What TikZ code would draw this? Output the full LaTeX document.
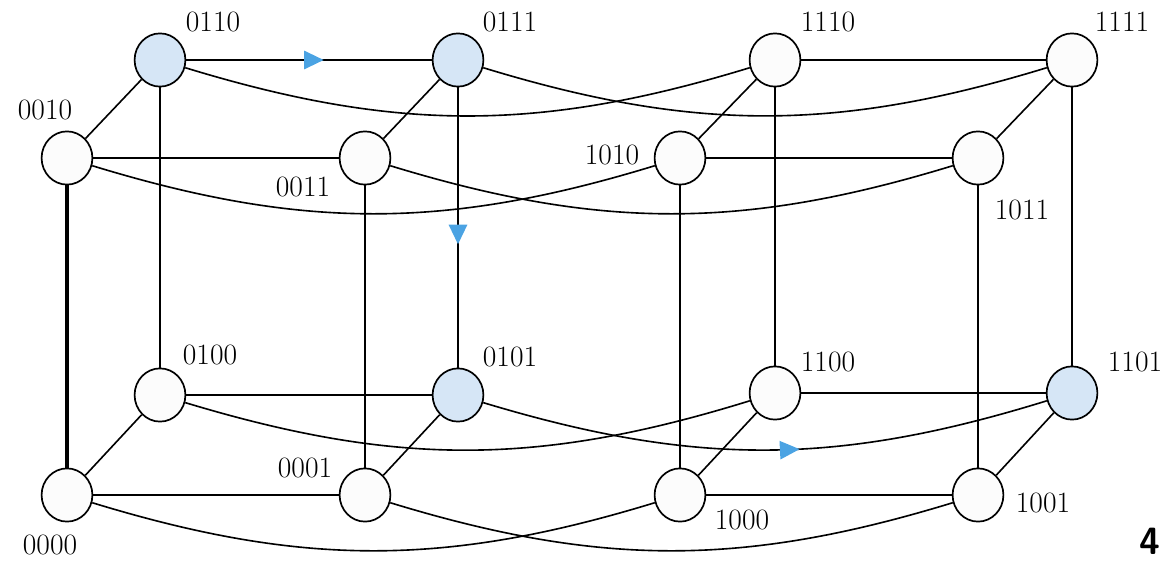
\documentclass[tikz,border=0pt]{standalone}
\usepackage{tikz}
\usetikzlibrary{arrows.meta, shapes.geometric, decorations.markings}

\definecolor{hopblue}{HTML}{4BA3E3}
\definecolor{visited}{HTML}{D6E6F6}

\begin{document}
\begin{tikzpicture}[
    x=0.025cm, y=-0.025cm,
    vertex/.style={ellipse, draw, line width=1.2pt, inner sep=0pt,
                   minimum width=1.27cm, minimum height=1.33cm, fill=black!1},
    visit/.style={vertex, fill=visited},
    tag/.style={font=\fontsize{21}{25}\selectfont},
    link/.style={line width=1.7pt},
    slant/.style={line width=1.15pt},
    wrap/.style={line width=1.15pt},
    route/.style={postaction={decorate}, decoration={markings,
                  mark=at position #1 with {\arrow{Triangle[color=hopblue, length=14pt, width=13pt]}}}}
]
\useasboundingbox (0,0) rectangle (1162,564);
% first cube (leading bit 0)
\node[visit]  (n0110) at (160,60)  {};
\node[visit]  (n0111) at (458,60)  {};
\node[vertex] (n0010) at (67,158)  {};
\node[vertex] (n0011) at (365,158) {};
\node[vertex] (n0100) at (160,395) {};
\node[visit]  (n0101) at (458,395) {};
\node[vertex] (n0000) at (67,495)  {};
\node[vertex] (n0001) at (365,495) {};
% second cube (leading bit 1)
\node[vertex] (n1110) at (775,60)  {};
\node[vertex] (n1111) at (1072,60) {};
\node[vertex] (n1010) at (680,158) {};
\node[vertex] (n1011) at (978,158) {};
\node[vertex] (n1100) at (775,393) {};
\node[visit]  (n1101) at (1072,393) {};
\node[vertex] (n1000) at (680,495) {};
\node[vertex] (n1001) at (978,495) {};
% labels
\node[tag] (l0110) at (213,22)  {0110};
\node[tag] (l0111) at (510,22)  {0111};
\node[tag] (l0010) at (45,110)  {0010};
\node[tag] (l0011) at (303,187) {0011};
\node[tag] (l0100) at (210,355) {0100};
\node[tag] (l0101) at (510,357) {0101};
\node[tag] (l0000) at (50,545)  {0000};
\node[tag] (l0001) at (305,468) {0001};
\node[tag] (l1110) at (828,22)  {1110};
\node[tag] (l1111) at (1122,22) {1111};
\node[tag] (l1010) at (612,155) {1010};
\node[tag] (l1011) at (1022,210) {1011};
\node[tag] (l1100) at (828,362) {1100};
\node[tag] (l1101) at (1135,362) {1101};
\node[tag] (l1000) at (742,520) {1000};
\node[tag] (l1001) at (1043,503) {1001};
% cube edges
\draw[link, route=0.56] (n0110) -- (n0111);
\draw[link] (n0010) -- (n0011);
\draw[slant] (n0100) -- (n0101);
\draw[link] (n0000) -- (n0001);
\draw[link] (n0110) -- (n0100);
\draw[link, route=0.56] (n0111) -- (n0101);
\draw[line width=2.4pt] (n0010) -- (n0000);
\draw[link] (n0011) -- (n0001);
\draw[slant] (n0010) -- (n0110);
\draw[slant] (n0011) -- (n0111);
\draw[slant] (n0000) -- (n0100);
\draw[slant] (n0001) -- (n0101);
\draw[link] (n1110) -- (n1111);
\draw[link] (n1010) -- (n1011);
\draw[slant] (n1100) -- (n1101);
\draw[link] (n1000) -- (n1001);
\draw[link] (n1110) -- (n1100);
\draw[link] (n1111) -- (n1101);
\draw[link] (n1010) -- (n1000);
\draw[link] (n1011) -- (n1001);
\draw[slant] (n1010) -- (n1110);
\draw[slant] (n1011) -- (n1111);
\draw[slant] (n1000) -- (n1100);
\draw[slant] (n1001) -- (n1101);
% edges between the two cubes
\draw[wrap] (n0110) to[bend right=17] (n1110);
\draw[wrap] (n0111) to[bend right=17] (n1111);
\draw[wrap] (n0010) to[bend right=17] (n1010);
\draw[wrap] (n0011) to[bend right=17] (n1011);
\draw[wrap] (n0100) to[bend right=17] (n1100);
\draw[wrap, route=0.56] (n0101) to[bend right=17] (n1101);
\draw[wrap] (n0000) to[bend right=17] (n1000);
\draw[wrap] (n0001) to[bend right=17] (n1001);
\node[font=\sffamily\bfseries\fontsize{27}{30}\selectfont, anchor=east] (pnum) at (1165,541) {4};
\end{tikzpicture}
\end{document}
